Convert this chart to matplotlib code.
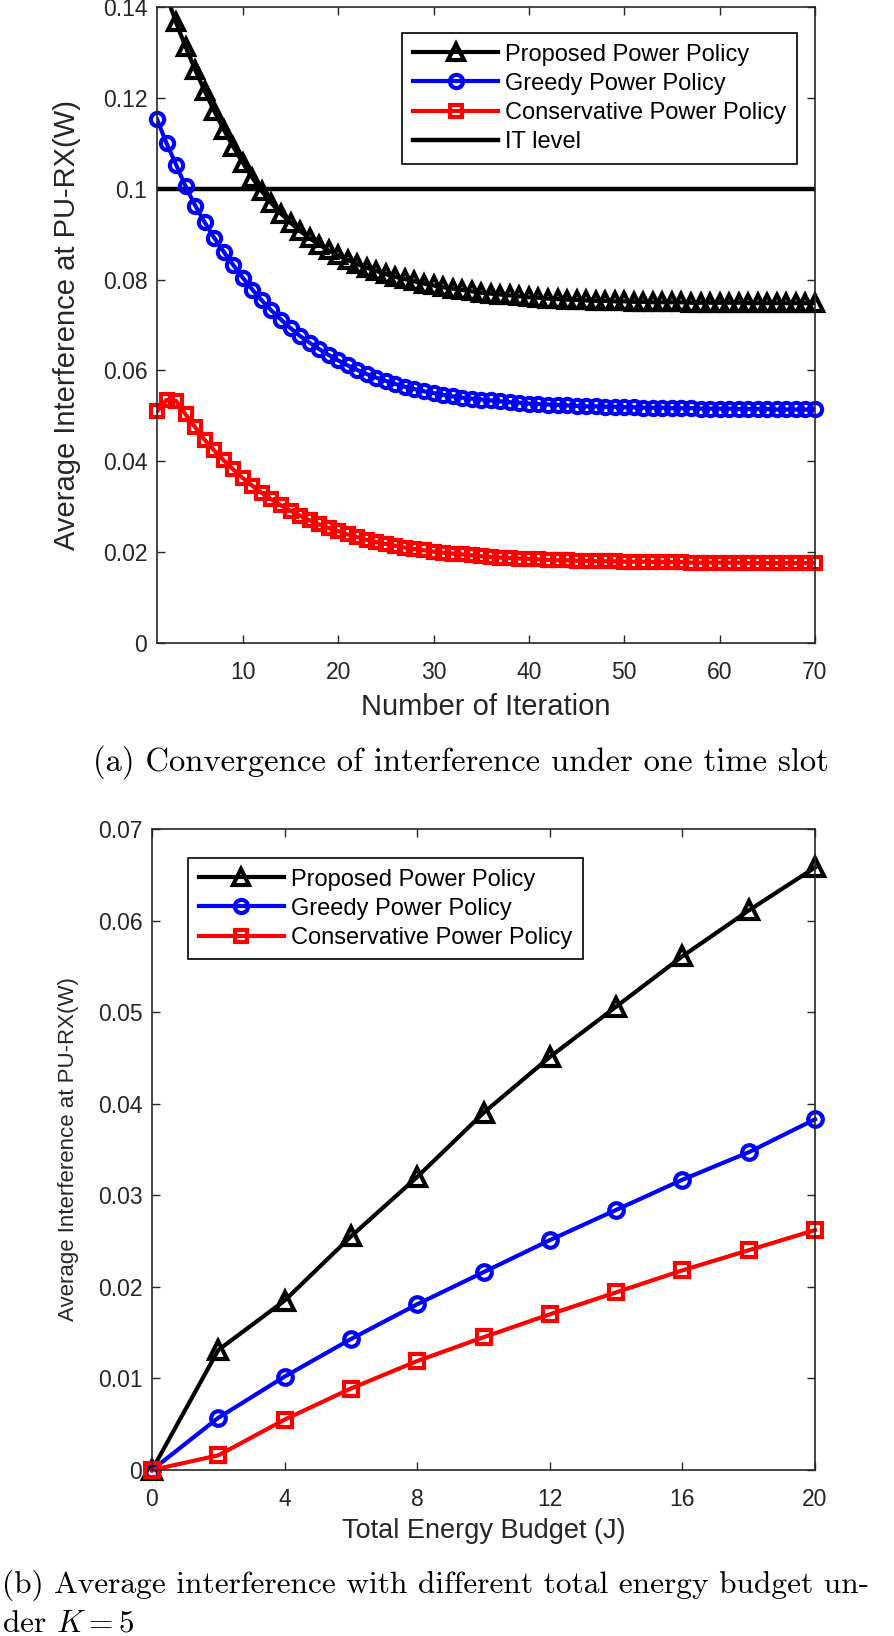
import matplotlib
matplotlib.use('Agg')
import matplotlib.pyplot as plt
from matplotlib.lines import Line2D
import numpy as np

plt.rcParams['font.family'] = ['Liberation Sans', 'DejaVu Sans']
plt.rcParams['mathtext.fontset'] = 'cm'

# ---- (a) convergence over iterations ----
iters = np.arange(1, 71)
proposed_a = [0.1490, 0.1425, 0.1366, 0.1312, 0.1262, 0.1215, 0.1171, 0.1130, 0.1092, 0.1057,
              0.1024, 0.0994, 0.0968, 0.0945, 0.0925, 0.0907, 0.0891, 0.0877, 0.0864, 0.0853,
              0.0843, 0.0834, 0.0826, 0.0819, 0.0812, 0.0806, 0.0801, 0.0796, 0.0791, 0.0787,
              0.0783, 0.0780, 0.0777, 0.0774, 0.0771, 0.0769, 0.0767, 0.0765, 0.0763, 0.0761,
              0.0760, 0.0758, 0.0757, 0.0756, 0.0755, 0.0754, 0.0753, 0.0753, 0.0752, 0.0752,
              0.0751, 0.0751, 0.0750, 0.0750, 0.0750, 0.0750, 0.0749, 0.0749, 0.0749, 0.0749,
              0.0749, 0.0749, 0.0748, 0.0748, 0.0748, 0.0748, 0.0748, 0.0748, 0.0748, 0.0748]
greedy_a = [0.1153, 0.1100, 0.1053, 0.1005, 0.0963, 0.0926, 0.0892, 0.0861, 0.0832, 0.0804,
            0.0778, 0.0754, 0.0732, 0.0712, 0.0693, 0.0676, 0.0661, 0.0647, 0.0634, 0.0622,
            0.0611, 0.0601, 0.0592, 0.0584, 0.0577, 0.0570, 0.0564, 0.0559, 0.0554, 0.0550,
            0.0546, 0.0543, 0.0540, 0.0538, 0.0536, 0.0534, 0.0532, 0.0530, 0.0529, 0.0527,
            0.0526, 0.0525, 0.0524, 0.0523, 0.0522, 0.0521, 0.0521, 0.0520, 0.0520, 0.0519,
            0.0519, 0.0518, 0.0518, 0.0518, 0.0517, 0.0517, 0.0517, 0.0516, 0.0516, 0.0516,
            0.0516, 0.0515, 0.0515, 0.0515, 0.0515, 0.0514, 0.0514, 0.0514, 0.0514, 0.0514]
conserv_a = [0.0510, 0.0535, 0.0533, 0.0503, 0.0475, 0.0447, 0.0424, 0.0402, 0.0382, 0.0363,
             0.0346, 0.0330, 0.0316, 0.0303, 0.0291, 0.0280, 0.0270, 0.0261, 0.0253, 0.0246,
             0.0239, 0.0233, 0.0227, 0.0222, 0.0218, 0.0214, 0.0210, 0.0207, 0.0204, 0.0201,
             0.0199, 0.0197, 0.0195, 0.0193, 0.0191, 0.0189, 0.0188, 0.0187, 0.0186, 0.0185,
             0.0184, 0.0183, 0.0182, 0.0182, 0.0181, 0.0181, 0.0180, 0.0180, 0.0180, 0.0179,
             0.0179, 0.0179, 0.0178, 0.0178, 0.0178, 0.0178, 0.0177, 0.0177, 0.0177, 0.0177,
             0.0177, 0.0177, 0.0176, 0.0176, 0.0176, 0.0176, 0.0176, 0.0176, 0.0176, 0.0176]
it_level = 0.1

# ---- (b) vs total energy budget ----
budget = [0, 2, 4, 6, 8, 10, 12, 14, 16, 18, 20]
proposed_b = [0.0, 0.0131, 0.0185, 0.0255, 0.0320, 0.0390, 0.0451, 0.0506, 0.0561, 0.0611, 0.0658]
greedy_b = [0.0, 0.0057, 0.0102, 0.0143, 0.0181, 0.0216, 0.0251, 0.0284, 0.0317, 0.0347, 0.0383]
conserv_b = [0.0, 0.0016, 0.0055, 0.0089, 0.0119, 0.0145, 0.0170, 0.0194, 0.0218, 0.0240, 0.0262]

yticks_a = [0, 0.02, 0.04, 0.06, 0.08, 0.1, 0.12, 0.14]
yticklabels_a = ['0', '0.02', '0.04', '0.06', '0.08', '0.1', '0.12', '0.14']
xticks_a = [10, 20, 30, 40, 50, 60, 70]
yticks_b = [0, 0.01, 0.02, 0.03, 0.04, 0.05, 0.06, 0.07]
yticklabels_b = ['0', '0.01', '0.02', '0.03', '0.04', '0.05', '0.06', '0.07']
xticks_b = [0, 4, 8, 12, 16, 20]

labels = ['Proposed Power Policy', 'Greedy Power Policy', 'Conservative Power Policy', 'IT level']

W, H = 894, 1636
fig = plt.figure(figsize=(W / 100, H / 100), dpi=100)


def box(l, t, r, b):
    return [l / W, 1 - b / H, (r - l) / W, (b - t) / H]


def style(ax):
    for s in ax.spines.values():
        s.set_color('#262626')
        s.set_linewidth(1.2)
    ax.tick_params(direction='in', top=True, right=True, length=6, width=1,
                   labelsize=16.5, colors='#262626')
    ax.tick_params(axis='x', pad=13)
    ax.tick_params(axis='y', pad=7)


sty = dict(lw=3, mfc='none', mew=3)
mk = {'k': ('^', 12), 'b': ('o', 9.5), 'r': ('s', 9)}

# top panel
ax1 = fig.add_axes(box(157, 7, 815, 643))
ax1.axhline(it_level, color='k', lw=3.2)
for ys, c in [(proposed_a, 'k'), (greedy_a, 'b'), (conserv_a, 'r')]:
    ys = np.array(ys)
    ax1.plot(iters, ys, color=c, lw=3)
    keep = ys <= 0.14
    ax1.plot(iters[keep], ys[keep], ls='none', marker=mk[c][0], ms=mk[c][1],
             mec=c, mfc='none', mew=3, clip_on=False)
ax1.set_xlim(1, 70)
ax1.set_ylim(0, 0.14)
ax1.set_xticks(xticks_a)
ax1.set_yticks(yticks_a)
ax1.set_yticklabels(yticklabels_a)
style(ax1)
ax1.set_xlabel('Number of Iteration', fontsize=21, color='#262626')
ax1.set_ylabel('Average Interference at PU-RX(W)', fontsize=21, color='#262626')
ax1.xaxis.set_label_coords(0.5, -0.078)
ax1.yaxis.set_label_coords(-0.115, 0.5)

hs = [Line2D([], [], color=c, marker=mk[c][0], ms=mk[c][1], **sty) for c in 'kbr']
hs.append(Line2D([], [], color='k', lw=3.2))
leg_kw = dict(borderaxespad=0, fontsize=17, handlelength=3.6, handletextpad=0.3,
              labelspacing=0.3, borderpad=0.45, numpoints=1, fancybox=False,
              framealpha=1, edgecolor='k', bbox_transform=fig.transFigure)
leg = ax1.legend(hs, labels, loc='upper right', bbox_to_anchor=(797 / W, 1 - 33 / H), **leg_kw)
leg.get_frame().set_linewidth(1.2)

# bottom panel
ax2 = fig.add_axes(box(152, 829, 815, 1470))
for ys, c in [(proposed_b, 'k'), (greedy_b, 'b'), (conserv_b, 'r')]:
    ax2.plot(budget, ys, color=c, marker=mk[c][0], ms=mk[c][1] + 1, clip_on=False, **sty)
ax2.set_xlim(0, 20)
ax2.set_ylim(0, 0.07)
ax2.set_xticks(xticks_b)
ax2.set_yticks(yticks_b)
ax2.set_yticklabels(yticklabels_b)
style(ax2)
ax2.set_xlabel('Total Energy Budget (J)', fontsize=19.5, color='#262626')
ax2.set_ylabel('Average Interference at PU-RX(W)', fontsize=16, color='#262626')
ax2.xaxis.set_label_coords(0.5, -0.075)
ax2.yaxis.set_label_coords(-0.11, 0.5)
leg2 = ax2.legend(hs[:3], labels[:3], loc='upper left', bbox_to_anchor=(188 / W, 1 - 858 / H),
                  **leg_kw)
leg2.get_frame().set_linewidth(1.2)

# captions
fig.text(461 / W, 1 - 762 / H, '(a) Convergence of interference under one time slot',
         family='cmr10', fontsize=23.5, ha='center', va='center')
fig.text(2 / W, 1 - 1585 / H, '(b) Average interference with different total energy budget un-',
         family='cmr10', fontsize=22.6, ha='left', va='center')
fig.text(2 / W, 1 - 1624 / H, 'der $K=5$', family='cmr10', fontsize=22.6, ha='left', va='center')

fig.savefig('out.png', dpi=100, facecolor='white')
